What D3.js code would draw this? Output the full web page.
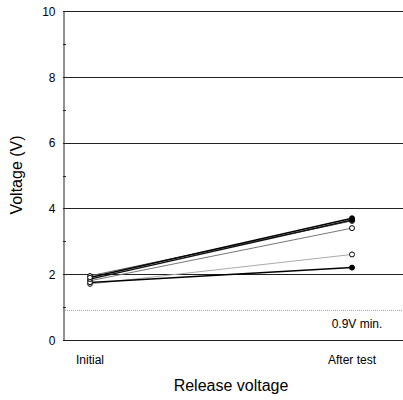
<!DOCTYPE html>
<html><head><meta charset="utf-8">
<script src="https://cdn.jsdelivr.net/npm/d3@7"></script>
<style>body{margin:0;background:#fff}svg{display:block;font-family:"Liberation Sans",Arial,sans-serif}</style>
</head><body><svg id="c" width="403" height="400"></svg>
<script>
const categories = ["Initial", "After test"];
const initialValues = [1.9, 1.85, 1.95, 1.8, 1.7, 1.75];
const afterValues = [3.7, 3.65, 3.62, 3.4, 2.6, 2.2];
const seriesColor = ["#000", "#111", "#666", "#777", "#aaa", "#000"];
const seriesFilled = [true, true, false, false, false, true];
const yTicks = [0, 2, 4, 6, 8, 10];
const yMinorTicks = [1, 3, 5, 7, 9];
const minLimit = 0.9;

const svg = d3.select("#c");
const L = 63, R = 403, T = 11, B = 340;
const y = d3.scaleLinear().domain([0, 10]).range([B, T]);
const x = d3.scalePoint().domain(categories).range([90, 352]);

svg.append("g").selectAll("line").data(yTicks).join("line")
  .attr("x1", L).attr("x2", R)
  .attr("y1", d => Math.round(y(d)) + 0.5).attr("y2", d => Math.round(y(d)) + 0.5)
  .attr("stroke", "#222").attr("stroke-width", 1);

const yAxis = d3.axisLeft(y).tickValues(yTicks).tickSize(0).tickPadding(8).tickFormat(d3.format("d"));
const ga = svg.append("g").attr("transform", `translate(${L + 0.5},0.5)`).call(yAxis);
ga.select(".domain").attr("stroke", "#222");
ga.selectAll("text").attr("font-size", 12).attr("font-family", "Liberation Sans, Arial, sans-serif").attr("fill", "#000");
svg.append("g").selectAll("line").data(yMinorTicks).join("line")
  .attr("x1", L).attr("x2", L + 3)
  .attr("y1", d => Math.round(y(d)) + 0.5).attr("y2", d => Math.round(y(d)) + 0.5)
  .attr("stroke", "#222");

svg.append("line").attr("x1", L).attr("x2", R)
  .attr("y1", y(minLimit)).attr("y2", y(minLimit))
  .attr("stroke", "#888").attr("stroke-width", 0.8).attr("stroke-dasharray", "1,1");
svg.append("text").attr("x", 357).attr("y", y(minLimit) + 18).attr("text-anchor", "middle")
  .attr("font-size", 12).text("0.9V min.");

svg.append("g").selectAll("text").data(categories).join("text")
  .attr("x", d => x(d)).attr("y", 364).attr("text-anchor", "middle")
  .attr("font-size", 12).text(d => d);

svg.append("text").attr("x", 231).attr("y", 391).attr("text-anchor", "middle")
  .attr("font-size", 16).text("Release voltage");
svg.append("text").attr("transform", `translate(22,175) rotate(-90)`).attr("text-anchor", "middle")
  .attr("font-size", 16).text("Voltage (V)");

const series = initialValues.map((v, i) => ({ vals: [v, afterValues[i]], color: seriesColor[i], filled: seriesFilled[i] }));
const order = [4, 3, 2, 5, 1, 0];
order.forEach(i => {
  const s = series[i];
  svg.append("line")
    .attr("x1", x(categories[0])).attr("y1", y(s.vals[0]))
    .attr("x2", x(categories[1])).attr("y2", y(s.vals[1]))
    .attr("stroke", s.color).attr("stroke-width", s.filled ? 1.5 : 1);
});
order.forEach(i => {
  const s = series[i];
  svg.append("circle").attr("cx", x(categories[0])).attr("cy", y(s.vals[0])).attr("r", 2.3)
    .attr("fill", "#fff").attr("stroke", "#000").attr("stroke-width", 1);
  svg.append("circle").attr("cx", x(categories[1])).attr("cy", y(s.vals[1])).attr("r", 2.5)
    .attr("fill", s.filled ? "#000" : "#fff").attr("stroke", "#000").attr("stroke-width", 1);
});
</script></body></html>
